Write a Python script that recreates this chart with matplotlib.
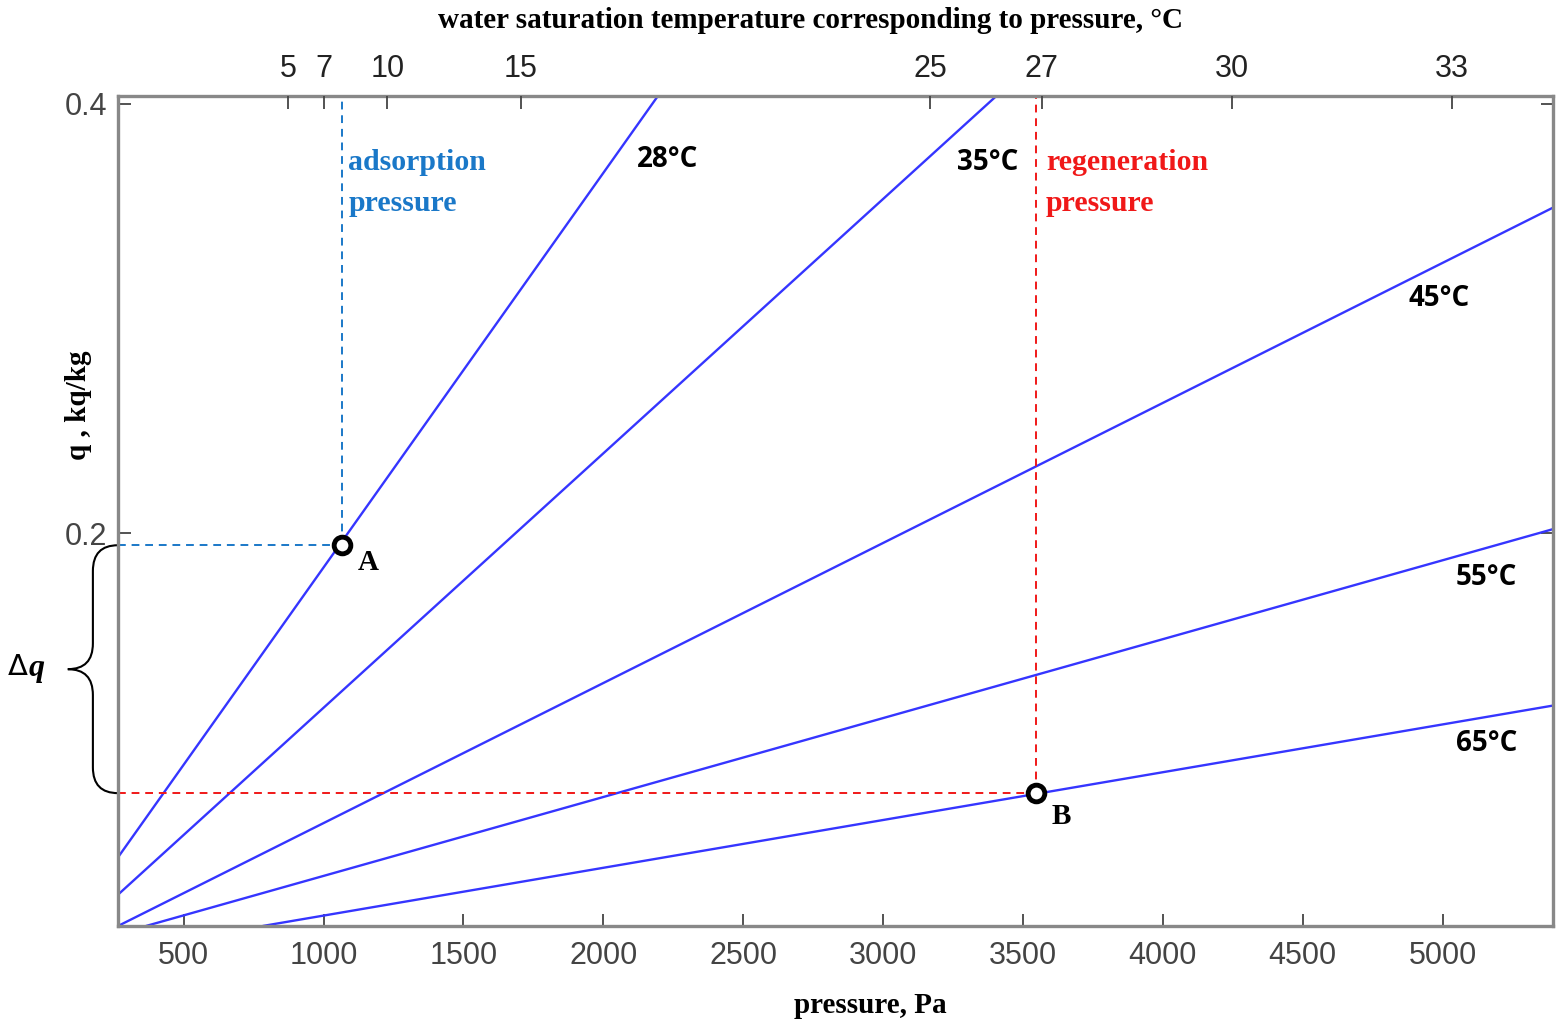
import numpy as np
import matplotlib.pyplot as plt
from matplotlib.path import Path
from matplotlib.patches import PathPatch
import matplotlib.transforms as mtransforms

# isotherms: straight lines, endpoints (pressure Pa, q kg/kg)
isotherms = ["28°C", "35°C", "45°C", "55°C", "65°C"]
iso_p = [[265, 2195], [265, 3405], [265, 5395], [365, 5395], [782, 5395]]
iso_q = [[0.049, 0.4037], [0.0316, 0.4037], [0.017, 0.3517], [0.017, 0.2019], [0.017, 0.1197]]
label_p = [2229, 3375, 4989, 5157, 5157]
label_q = [0.374, 0.3726, 0.3095, 0.1796, 0.102]

# operating points
point_A = (1064, 0.1944)
point_B = (3546, 0.0789)

# top axis: saturation temperature at pressure
sat_temp = [5, 7, 10, 15, 25, 27, 30, 33]
sat_pres = [872, 1002, 1228, 1705, 3169, 3567, 4246, 5034]

xticks = [500, 1000, 1500, 2000, 2500, 3000, 3500, 4000, 4500, 5000]
yticks = [0.2, 0.4]
xlim = (265, 5395)
ylim = (0.017, 0.4037)

W, H = 1556, 1021
fig = plt.figure(figsize=(W / 100, H / 100), dpi=100)
ax = fig.add_axes([118 / W, 1 - 926 / H, (1553 - 118) / W, (926 - 96) / H])

spine_col = "#888888"
line_col = "#3535ff"
blue = "#1a78c8"
red = "#f01818"
serif = ["Liberation Serif", "DejaVu Serif"]
sans = ["Liberation Sans", "DejaVu Sans"]

for p, q in zip(iso_p, iso_q):
    ax.plot(p, q, color=line_col, lw=1.7, solid_capstyle="butt")

for lab, x, y in zip(isotherms, label_p, label_q):
    ax.text(x, y, lab, ha="center", va="center", fontsize=20, fontweight="bold",
            family=["Open Sans", "DejaVu Sans"])

# dashed guide lines
ax.plot([point_A[0], point_A[0]], [point_A[1], ylim[1]], color=blue, lw=1.4, ls=(0, (4, 3)))
ax.plot([xlim[0], point_A[0]], [point_A[1], point_A[1]], color=blue, lw=1.4, ls=(0, (4, 3)))
ax.plot([point_B[0], point_B[0]], [point_B[1], ylim[1]], color=red, lw=1.4, ls=(0, (4, 3)))
ax.plot([xlim[0], point_B[0]], [point_B[1], point_B[1]], color=red, lw=1.4, ls=(0, (4, 3)))

for pt in (point_A, point_B):
    ax.plot(*pt, marker="o", ms=12, mfc="white", mec="black", mew=3.5, zorder=5)

ax.text(1161, 0.1865, "A", ha="center", va="center", fontsize=21, fontweight="bold", family=serif)
ax.text(3636, 0.0682, "B", ha="center", va="center", fontsize=21, fontweight="bold", family=serif)

ax.text(1089, 0.3788, "adsorption\npressure", ha="left", va="top", fontsize=21.5,
        fontweight="bold", family=serif, color=blue, linespacing=1.65)
ax.text(3582, 0.3788, "regeneration\npressure", ha="left", va="top", fontsize=21.5,
        fontweight="bold", family=serif, color=red, linespacing=1.65)

ax.set_xlim(*xlim)
ax.set_ylim(*ylim)
ax.set_xticks(xticks)
ax.set_yticks(yticks)
ax.set_yticklabels(["0.2", "0.4"])
ax.tick_params(axis="both", direction="in", length=9, width=1.3, color="#444444",
               labelsize=22, labelcolor="#444444")
ax.tick_params(axis="x", pad=11)
ax.tick_params(axis="y", pad=8, right=True)
for lab in ax.get_xticklabels() + ax.get_yticklabels():
    lab.set_family(sans)
for s in ax.spines.values():
    s.set_color(spine_col)
    s.set_linewidth(2.4)

# top axis with saturation temperatures
ax2 = ax.twiny()
ax2.set_xlim(*xlim)
ax2.set_xticks(sat_pres)
ax2.set_xticklabels([str(t) for t in sat_temp])
ax2.tick_params(axis="x", direction="in", length=9, width=1.3, color="#444444",
                labelsize=22, labelcolor="#222222", pad=8.5)
for lab in ax2.get_xticklabels():
    lab.set_family(sans)
for s in ax2.spines.values():
    s.set_visible(False)

# curly brace for delta q, outside the axes
trans = mtransforms.blended_transform_factory(ax.transAxes, ax.transData)
yt, yb = point_A[1], point_B[1]
ym = (yt + yb) / 2
d = 0.012
x0, x1, x2 = 0.0, -0.0175, -0.035
verts = [(x0, yt), (x1, yt), (x1, yt - d),
         (x1, ym + d),
         (x1, ym), (x2, ym),
         (x1, ym), (x1, ym - d),
         (x1, yb + d),
         (x1, yb), (x0, yb)]
codes = [Path.MOVETO, Path.CURVE3, Path.CURVE3,
         Path.LINETO,
         Path.CURVE3, Path.CURVE3,
         Path.CURVE3, Path.CURVE3,
         Path.LINETO,
         Path.CURVE3, Path.CURVE3]
ax.add_patch(PathPatch(Path(verts, codes), fill=False, lw=1.5, color="black",
                       transform=trans, clip_on=False))
fig.text(29 / W, 1 - 668 / H, r"$\Delta$", ha="right", va="center", fontsize=21,
         family=serif)
fig.text(29 / W, 1 - 668 / H, "q", ha="left", va="center", fontsize=23,
         family=serif, fontweight="bold", style="italic")

fig.text(870 / W, 1 - 1005 / H, "pressure, Pa", ha="center", va="center",
         fontsize=21, fontweight="bold", family=serif)
fig.text(810 / W, 1 - 20 / H, "water saturation temperature corresponding to pressure, °C",
         ha="center", va="center", fontsize=21, fontweight="bold", family=serif)
fig.text(78 / W, 1 - 405 / H, "q , kq/kg", ha="center", va="center", rotation=90,
         fontsize=21, fontweight="bold", family=serif)

fig.savefig("out.png", dpi=100)
